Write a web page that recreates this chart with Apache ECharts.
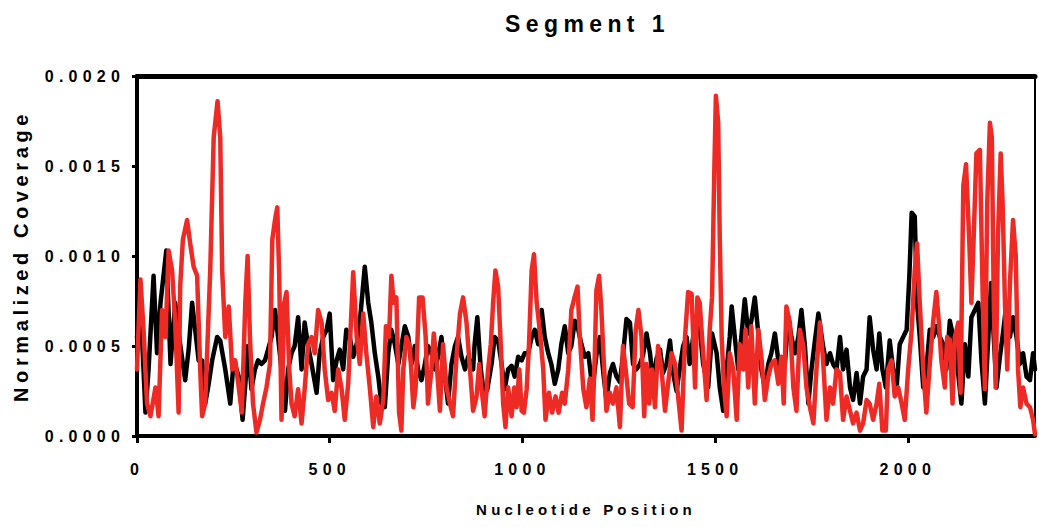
<!DOCTYPE html>
<html>
<head>
<meta charset="utf-8">
<script src="https://cdn.jsdelivr.net/npm/echarts@6/dist/echarts.min.js"></script>
<style>
html,body{margin:0;padding:0;background:#fff;}
#chart{width:1039px;height:527px;}
#chart text{letter-spacing:0.3em;}
#chart text[style*="23px"]{letter-spacing:5.4px;}
#chart text[style*="20px"]{letter-spacing:4.6px;}
#chart text[style*="16px"]{letter-spacing:5.2px;}
#chart text[style*="15px"]{letter-spacing:4.2px;}
</style>
</head>
<body>
<div id="chart"></div>
<script>
const titleText = 'Segment 1';
const xName = 'Nucleotide Position';
const yName = 'Normalized Coverage';
const xTicks = [0, 500, 1000, 1500, 2000];
const yTicks = [0, 0.0005, 0.001, 0.0015, 0.002];

const blackPos = [0,9,22,30,43,52,61,76,87,99,112,125,134,143,151,160,169,177,186,195,208,216,229,242,251,264,274,285,
288,297,306,314,323,332,340,349,358,366,375,384,392,401,409,418,427,435,444,453,466,474,483,492,500,509,518,526,535,543,552,561,570,578,
591,600,608,617,626,634,643,652,660,669,678,686,695,704,712,721,729,738,747,755,764,773,781,790,799,807,816,825,833,842,851,859,872,
876,883,892,901,909,920,928,937,946,954,963,972,980,989,998,1006,1015,1024,1032,1041,1050,1058,1067,1075,1084,1093,1101,1110,1119,1127,1136,1145,1153,1162,1171,1179,
1184,1192,1201,1210,1218,1227,1235,1244,1253,1261,1270,1279,1287,1296,1305,1313,1322,1331,1339,1348,1357,1365,1374,1383,1391,1400,1408,1417,1426,1434,1443,1452,1460,1469,
1482,1492,1504,1512,1521,1530,1538,1543,1551,1560,1568,1577,1586,1594,1603,1612,1620,1629,1638,1646,1655,1664,1672,1681,1690,1698,1707,1716,1724,1733,1742,1750,1759,1768,
1780,1789,1798,1806,1815,1824,1832,1841,1850,1858,1867,1876,1884,1893,1901,1910,1919,1926,1934,1943,1953,1962,1971,1979,1988,1997,2004,2010,2018,2024,2031,2040,2048,
2057,2066,2074,2083,2092,2100,2109,2118,2126,2139,2148,2157,2165,2174,2183,2191,2200,2209,2216,2222,2230,2239,2248,2256,2265,2273,2282,2291,2299,2308,2317,2325,2330];
const blackCov = [0.00055,0.00074,0.00013,0.00037,0.00089,0.00046,0.00074,0.00103,0.00040,0.00074,0.00051,0.00031,0.00048,0.00074,0.00059,0.00042,0.00042,0.00018,0.00029,0.00042,0.00055,0.00053,0.00037,0.00018,0.00042,0.00033,0.00009,0.00040,
0.00050,0.00026,0.00037,0.00042,0.00040,0.00042,0.00048,0.00055,0.00070,0.00055,0.00037,0.00014,0.00037,0.00046,0.00050,0.00066,0.00037,0.00063,0.00050,0.00040,0.00024,0.00046,0.00055,0.00059,0.00068,0.00031,0.00042,0.00048,0.00037,0.00059,0.00055,0.00044,0.00051,0.00063,
0.00094,0.00074,0.00063,0.00046,0.00033,0.00018,0.00016,0.00046,0.00059,0.00051,0.00040,0.00050,0.00061,0.00055,0.00040,0.00050,0.00037,0.00031,0.00040,0.00050,0.00046,0.00037,0.00044,0.00055,0.00033,0.00018,0.00040,0.00050,0.00055,0.00044,0.00037,0.00044,0.00037,
0.00051,0.00066,0.00037,0.00022,0.00026,0.00040,0.00055,0.00053,0.00040,0.00026,0.00037,0.00039,0.00033,0.00044,0.00042,0.00046,0.00046,0.00055,0.00059,0.00051,0.00070,0.00055,0.00046,0.00040,0.00029,0.00037,0.00051,0.00061,0.00046,0.00050,0.00064,0.00059,0.00051,0.00044,0.00046,0.00031,
0.00030,0.00045,0.00055,0.00035,0.00020,0.00035,0.00040,0.00033,0.00030,0.00045,0.00065,0.00063,0.00040,0.00037,0.00040,0.00045,0.00057,0.00046,0.00030,0.00043,0.00048,0.00035,0.00040,0.00053,0.00035,0.00025,0.00037,0.00050,0.00055,0.00040,0.00055,0.00066,0.00060,0.00040,
0.00027,0.00057,0.00046,0.00027,0.00014,0.00037,0.00055,0.00072,0.00055,0.00037,0.00055,0.00076,0.00057,0.00064,0.00077,0.00057,0.00037,0.00027,0.00040,0.00046,0.00057,0.00042,0.00033,0.00040,0.00066,0.00055,0.00046,0.00055,0.00070,0.00050,0.00018,0.00037,0.00053,0.00068,
0.00050,0.00040,0.00046,0.00040,0.00037,0.00055,0.00037,0.00048,0.00027,0.00020,0.00035,0.00018,0.00033,0.00037,0.00066,0.00048,0.00037,0.00057,0.00037,0.00027,0.00053,0.00037,0.00027,0.00051,0.00055,0.00059,0.00089,0.00124,0.00122,0.00074,0.00055,0.00027,0.00037,
0.00059,0.00055,0.00061,0.00055,0.00051,0.00037,0.00064,0.00055,0.00044,0.00018,0.00051,0.00033,0.00066,0.00070,0.00074,0.00042,0.00018,0.00055,0.00085,0.00059,0.00027,0.00044,0.00059,0.00074,0.00055,0.00066,0.00055,0.00040,0.00046,0.00033,0.00031,0.00046,0.00037];

const redPos = [0,9,17,26,35,48,56,65,74,82,91,99,108,112,119,130,138,147,156,164,169,177,190,199,209,216,221,229,238,247,255,264,272,281,287,
293,301,310,319,327,336,345,351,358,364,369,375,382,388,395,401,409,418,427,435,444,453,461,470,479,487,496,505,513,522,531,539,548,555,561,570,578,587,
595,604,613,621,630,639,646,654,660,666,673,680,686,691,699,708,717,723,732,741,749,755,764,770,777,786,794,803,812,820,829,838,846,855,864,872,881,888,
894,902,911,918,924,930,937,944,950,956,963,972,979,985,992,998,1004,1011,1017,1024,1030,1037,1045,1054,1060,1069,1077,1086,1094,1103,1110,1119,1127,1134,1143,1149,1158,1166,1175,
1182,1188,1192,1199,1205,1210,1218,1227,1235,1244,1253,1261,1268,1277,1286,1294,1301,1309,1316,1322,1329,1336,1344,1352,1361,1370,1378,1387,1396,1404,1413,1422,1430,1439,1448,1454,1460,1469,1478,
1486,1492,1498,1502,1508,1512,1517,1523,1530,1538,1547,1556,1564,1573,1579,1586,1594,1603,1612,1620,1629,1638,1646,1655,1664,1672,1678,1685,1694,1703,1711,1720,1729,1737,1746,1755,1763,1772,1780,
1789,1798,1806,1815,1824,1832,1841,1850,1858,1867,1876,1884,1893,1901,1910,1919,1926,1934,1943,1949,1958,1966,1975,1984,1992,2001,2010,2018,2024,2031,2040,2048,2057,2066,2074,2081,
2087,2096,2102,2109,2116,2122,2131,2137,2144,2151,2159,2165,2171,2178,2187,2194,2200,2206,2213,2218,2223,2228,2234,2241,2246,2252,2258,2265,2273,2280,2286,2292,2299,2308,2317,2325,2330];
const redCov = [0.00037,0.00087,0.00059,0.00018,0.00011,0.00027,0.00011,0.00070,0.00055,0.00103,0.00092,0.00064,0.00013,0.00083,0.00109,0.00120,0.00107,0.00094,0.00089,0.00037,0.00011,0.00018,0.00092,0.00166,0.00186,0.00166,0.00092,0.00055,0.00072,0.00037,0.00042,0.00027,0.00013,0.00074,0.00100,
0.00055,0.00018,0.00002,0.00009,0.00018,0.00027,0.00040,0.00109,0.00120,0.00127,0.00089,0.00009,0.00074,0.00080,0.00037,0.00018,0.00011,0.00026,0.00007,0.00026,0.00051,0.00055,0.00046,0.00070,0.00063,0.00037,0.00020,0.00024,0.00014,0.00037,0.00026,0.00009,0.00029,0.00063,0.00091,0.00055,0.00040,0.00068,
0.00046,0.00027,0.00005,0.00022,0.00007,0.00020,0.00061,0.00055,0.00089,0.00074,0.00077,0.00013,0.00003,0.00037,0.00055,0.00050,0.00016,0.00027,0.00077,0.00077,0.00055,0.00018,0.00037,0.00057,0.00042,0.00014,0.00051,0.00027,0.00018,0.00011,0.00044,0.00068,0.00077,0.00063,0.00037,0.00014,0.00022,0.00040,
0.00026,0.00011,0.00037,0.00051,0.00074,0.00092,0.00083,0.00050,0.00018,0.00005,0.00027,0.00011,0.00027,0.00016,0.00037,0.00014,0.00013,0.00026,0.00050,0.00092,0.00101,0.00074,0.00059,0.00037,0.00009,0.00024,0.00013,0.00022,0.00013,0.00024,0.00018,0.00037,0.00070,0.00076,0.00083,0.00055,0.00026,0.00016,0.00032,
0.00009,0.00046,0.00081,0.00089,0.00070,0.00046,0.00014,0.00024,0.00018,0.00027,0.00005,0.00050,0.00037,0.00018,0.00016,0.00059,0.00070,0.00055,0.00011,0.00040,0.00018,0.00037,0.00016,0.00050,0.00037,0.00014,0.00029,0.00046,0.00040,0.00022,0.00003,0.00055,0.00080,0.00079,0.00027,0.00077,0.00074,0.00046,0.00020,
0.00059,0.00077,0.00148,0.00189,0.00174,0.00111,0.00055,0.00027,0.00011,0.00046,0.00037,0.00009,0.00051,0.00037,0.00059,0.00027,0.00061,0.00018,0.00059,0.00044,0.00020,0.00033,0.00040,0.00042,0.00029,0.00044,0.00018,0.00072,0.00063,0.00027,0.00014,0.00059,0.00050,0.00027,0.00016,0.00007,0.00037,0.00063,0.00043,
0.00009,0.00027,0.00018,0.00037,0.00035,0.00009,0.00022,0.00014,0.00007,0.00013,0.00003,0.00007,0.00020,0.00018,0.00009,0.00018,0.00029,0.00003,0.00003,0.00037,0.00042,0.00022,0.00027,0.00018,0.00009,0.00037,0.00059,0.00092,0.00107,0.00074,0.00037,0.00013,0.00040,0.00064,0.00080,0.00062,
0.00042,0.00027,0.00055,0.00053,0.00018,0.00055,0.00063,0.00024,0.00139,0.00151,0.00111,0.00074,0.00111,0.00157,0.00159,0.00081,0.00026,0.00129,0.00174,0.00166,0.00074,0.00027,0.00111,0.00157,0.00129,0.00074,0.00037,0.00085,0.00120,0.00100,0.00037,0.00016,0.00027,0.00018,0.00016,0.00009,0.00001];

function pairs(xs, ys) { return xs.map((x, i) => [x, ys[i]]); }

const chart = echarts.init(document.getElementById('chart'), null, { renderer: 'svg' });
const FONT = 'Liberation Sans, Arial, sans-serif';
chart.setOption({
  animation: false,
  backgroundColor: '#fff',
  title: {
    text: titleText,
    left: 500, top: 7,
    textStyle: { fontFamily: FONT, fontSize: 23, fontWeight: 'bold', color: '#000' }
  },
  grid: { left: 137, right: 4, top: 76, bottom: 91, show: true, borderColor: '#000', borderWidth: 2, backgroundColor: 'transparent' },
  xAxis: [{
    type: 'value', min: 0, max: 2330, interval: 500,
    name: xName, nameLocation: 'middle', nameGap: 66,
    nameTextStyle: { fontFamily: FONT, fontSize: 15, fontWeight: 'bold', color: '#000' },
    axisLine: { show: true, lineStyle: { color: '#000', width: 4 } },
    axisTick: { show: true, length: 7, lineStyle: { color: '#000', width: 3 }, customValues: xTicks },
    axisLabel: { margin: 25, fontFamily: FONT, fontSize: 16, fontWeight: 'bold', color: '#000', customValues: xTicks,
      formatter: v => String(v) },
    splitLine: { show: false }
  }, {
    type: 'value', min: 0, max: 2330, position: 'top',
    axisLine: { show: true, lineStyle: { color: '#000', width: 5 } },
    axisTick: { show: false }, axisLabel: { show: false }, splitLine: { show: false }
  }],
  yAxis: {
    type: 'value', min: 0, max: 0.002, interval: 0.0005,
    name: yName, nameLocation: 'middle', nameRotate: 90, nameGap: 106,
    nameTextStyle: { fontFamily: FONT, fontSize: 20, fontWeight: 'bold', color: '#000' },
    axisLine: { show: true, lineStyle: { color: '#000', width: 4 } },
    axisTick: { show: true, length: 5, lineStyle: { color: '#000', width: 3 } },
    axisLabel: { margin: 12, fontFamily: FONT, fontSize: 16, fontWeight: 'bold', color: '#000',
      formatter: v => v.toFixed(4) },
    splitLine: { show: false }
  },
  series: [{
    type: 'line', name: 'black', data: pairs(blackPos, blackCov), showSymbol: false,
    lineStyle: { color: '#000', width: 4.5, join: 'round', cap: 'round' }, itemStyle: { color: '#000' }, z: 2
  }, {
    type: 'line', name: 'red', data: pairs(redPos, redCov), showSymbol: false,
    lineStyle: { color: '#EE2A24', width: 4.5, join: 'round', cap: 'round' }, itemStyle: { color: '#EE2A24' }, z: 3
  }]
});
</script>
</body>
</html>
